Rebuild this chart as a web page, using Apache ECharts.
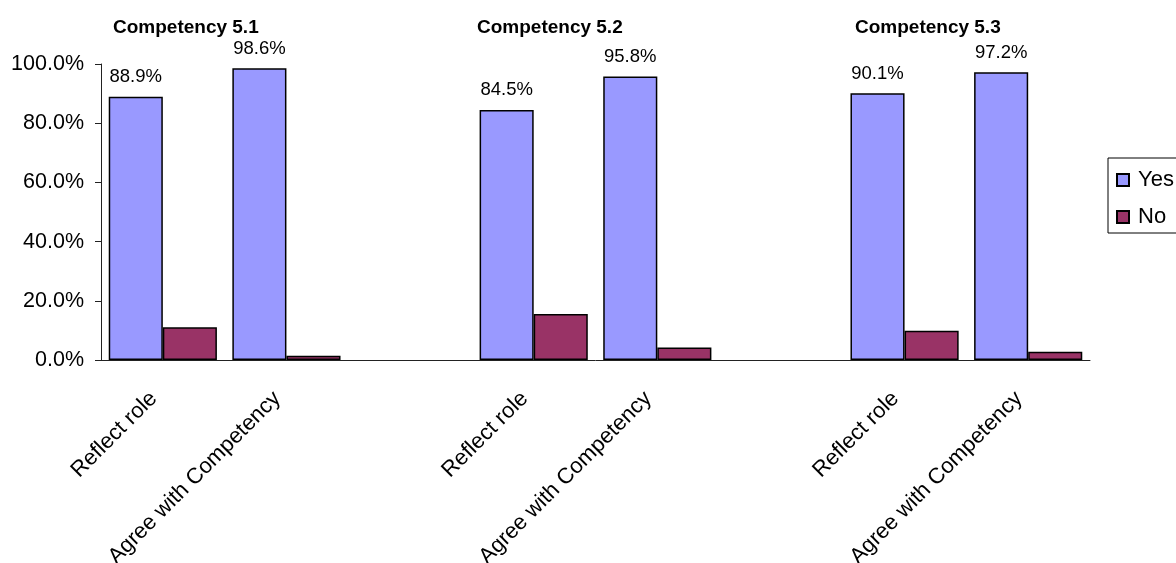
<!DOCTYPE html>
<html>
<head>
<meta charset="utf-8">
<script src="https://cdn.jsdelivr.net/npm/echarts@6/dist/echarts.min.js"></script>
<style>
html,body{margin:0;padding:0;background:#fff;}
#chart{width:1176px;height:563px;}
</style>
</head>
<body>
<div id="chart"></div>
<script>
const categories = ['Reflect role', 'Agree with Competency', '', 'Reflect role', 'Agree with Competency', '', 'Reflect role', 'Agree with Competency'];
const yesValues = [88.9, 98.6, null, 84.5, 95.8, null, 90.1, 97.2];
const noValues = [11.1, 1.4, null, 15.5, 4.2, null, 9.9, 2.8];
const groupTitles = ['Competency 5.1', 'Competency 5.2', 'Competency 5.3'];
const yTicks = [0, 20, 40, 60, 80, 100];

const FONT = '"Liberation Sans", Arial, sans-serif';
const chart = echarts.init(document.getElementById('chart'), null, {renderer: 'canvas'});
const titleLefts = [113, 477, 855];

const option = {
  backgroundColor: '#ffffff',
  animation: false,
  title: groupTitles.map((t, i) => ({
    text: t,
    left: titleLefts[i],
    top: 18,
    padding: 0,
    textStyle: {fontFamily: FONT, fontSize: 19, fontWeight: 'bold', color: '#000'}
  })),
  legend: {
    orient: 'vertical',
    left: 1108,
    top: 158,
    padding: [11, 8, 5, 8],
    itemGap: 15,
    itemWidth: 12,
    itemHeight: 12,
    borderColor: '#000',
    borderWidth: 1,
    icon: 'rect',
    textStyle: {fontFamily: FONT, fontSize: 22, color: '#000', padding: [0, 0, 0, 4]},
    data: ['Yes', 'No']
  },
  grid: {
    left: 101, right: 86, top: 64, bottom: 203,
    containLabel: false,
    outerBoundsMode: 'none'
  },
  xAxis: {
    type: 'category',
    data: categories,
    axisLine: {lineStyle: {color: '#222', width: 1}},
    axisTick: {show: false},
    axisLabel: {
      interval: 0,
      rotate: 45,
      margin: 26,
      padding: [0, 13, 0, 0],
      fontFamily: FONT,
      fontSize: 22,
      color: '#000'
    },
    splitLine: {show: false}
  },
  yAxis: {
    type: 'value',
    min: yTicks[0],
    max: yTicks[yTicks.length - 1],
    interval: 20,
    axisLine: {show: true, lineStyle: {color: '#222', width: 1}},
    axisTick: {show: true, inside: false, length: 6, lineStyle: {color: '#222'}},
    axisLabel: {
      margin: 17,
      fontFamily: FONT,
      fontSize: 21.5,
      color: '#000',
      formatter: v => v.toFixed(1) + '%'
    },
    splitLine: {show: false}
  },
  series: [
    {
      name: 'Yes',
      type: 'bar',
      data: yesValues,
      barGap: '0%',
      barCategoryGap: '12.5%',
      itemStyle: {color: '#9999FF', borderColor: '#000', borderWidth: 1.5},
      label: {
        show: true,
        position: 'top',
        distance: 10,
        fontFamily: FONT,
        fontSize: 18.5,
        color: '#000',
        formatter: p => p.value == null ? '' : p.value.toFixed(1) + '%'
      }
    },
    {
      name: 'No',
      type: 'bar',
      data: noValues,
      barGap: '0%',
      barCategoryGap: '12.5%',
      itemStyle: {color: '#993366', borderColor: '#000', borderWidth: 1.5}
    }
  ]
};
chart.setOption(option);
</script>
</body>
</html>
